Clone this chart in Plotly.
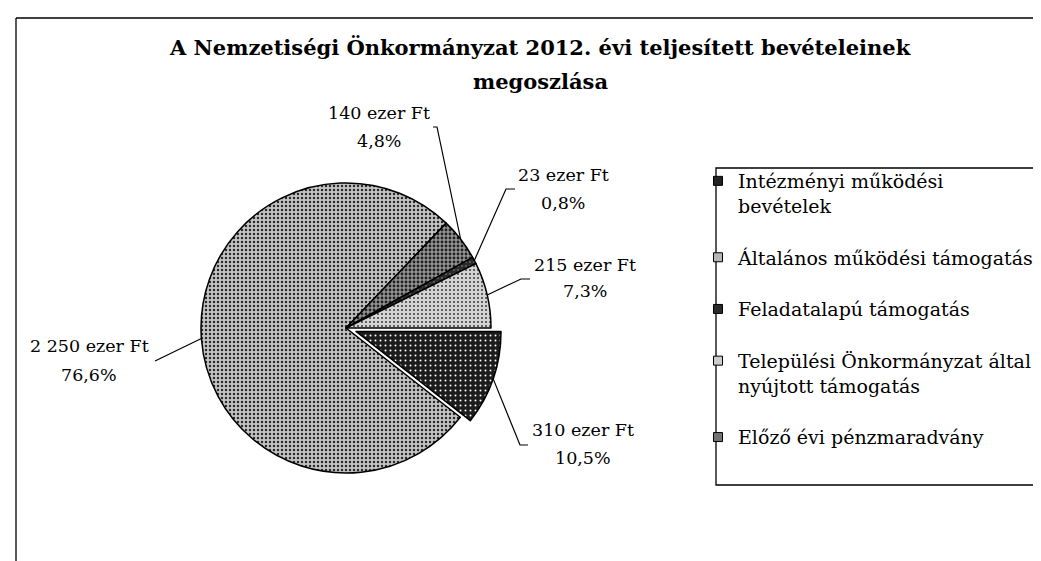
import math
import plotly.graph_objects as go

# ---------------- data ----------------
categories = [
    "Intézményi működési bevételek",
    "Általános működési támogatás",
    "Feladatalapú támogatás",
    "Települési Önkormányzat által nyújtott támogatás",
    "Előző évi pénzmaradvány",
]
legend_labels = [
    "Intézményi működési<br>bevételek",
    "Általános működési támogatás",
    "Feladatalapú támogatás",
    "Települési Önkormányzat által<br>nyújtott támogatás",
    "Előző évi pénzmaradvány",
]
values = [310, 2250, 23, 215, 140]          # ezer Ft
percent_labels = [10.5, 76.6, 0.8, 7.3, 4.8]  # % as printed on the chart
unit = "ezer Ft"
title_lines = ["A Nemzetiségi Önkormányzat 2012. évi teljesített bevételeinek", "megoszlása"]

# clockwise drawing order of the slices, starting at 3 o'clock
slice_order = [0, 1, 4, 2, 3]

# ---------------- styles ----------------
bg_cols = ["#1c1c1c", "#c4c4c4", "#2a2a2a", "#d4d4d4", "#949494"]
fg_cols = ["#ffffff", "#2a2a2a", "#666666", "#444444", "#202020"]
pat_sizes = [5, 4, 4, 4, 4]
pat_solid = [0.12, 0.3, 0.2, 0.22, 0.4]
legend_cols = ["#222222", "#b5b5b5", "#2a2a2a", "#cccccc", "#727272"]
pulls = [0.073, 0, 0, 0, 0]

W, H = 1041, 561
CX, CY, R = 338, 320, 145
FONT = "DejaVu Serif"


def xp(x):
    return x / W


def yp(y):
    return 1 - y / H


maxpull = max(pulls)
half = R * (1 + maxpull)

fig = go.Figure()

ordered = slice_order
fig.add_trace(go.Pie(
    labels=[categories[i] for i in ordered],
    values=[values[i] for i in ordered],
    pull=[pulls[i] for i in ordered],
    sort=False,
    direction="clockwise",
    rotation=90,
    textinfo="none",
    hoverinfo="label+value+percent",
    showlegend=False,
    domain=dict(x=[xp(CX - half), xp(CX + half)], y=[yp(CY + half), yp(CY - half)]),
    marker=dict(
        colors=[bg_cols[i] for i in ordered],
        line=dict(color="#000000", width=1.5),
        pattern=dict(
            shape=["."] * len(ordered),
            bgcolor=[bg_cols[i] for i in ordered],
            fgcolor=[fg_cols[i] for i in ordered],
            size=[pat_sizes[i] for i in ordered],
            solidity=[pat_solid[i] for i in ordered],
        ),
    ),
))

# legend entries (in the original legend order)
for i, lab in enumerate(legend_labels):
    fig.add_trace(go.Scatter(
        x=[None], y=[None], mode="markers", name=lab,
        legendgroup=f"g{i}",
        marker=dict(symbol="square", size=9, color=legend_cols[i],
                    line=dict(color="#000000", width=1)),
    ))

# ---------------- data labels with leader lines ----------------
label_pos = {
    0: dict(x=575, y1=422, y2=450, elbow=[(520, 437), (512, 437)]),
    1: dict(x=81, y1=338, y2=367, elbow=[(147, 353)]),
    2: dict(x=555, y1=167, y2=195, elbow=[(507, 181), (498, 181)]),
    3: dict(x=577, y1=257, y2=283, elbow=[(522, 271), (513, 271)]),
    4: dict(x=371, y1=105, y2=133, elbow=[(425, 119), (429, 119)]),
}

total = sum(values)
cum = 0.0
annotations = []
shapes = []
for i in ordered:
    a0 = -cum / total * 360.0
    a1 = -(cum + values[i]) / total * 360.0
    cum += values[i]
    mid = math.radians((a0 + a1) / 2)
    shift = pulls[i] * R
    ex = CX + (R + shift) * math.cos(mid)
    ey = CY - (R + shift) * math.sin(mid)
    lp = label_pos[i]
    pts = lp["elbow"] + [(ex, ey)]
    path = "M " + " L ".join(f"{xp(px):.5f},{yp(py):.5f}" for px, py in pts)
    shapes.append(dict(type="path", path=path, xref="paper", yref="paper",
                       line=dict(color="#000000", width=1.2)))
    vtxt = f"{values[i]:,}".replace(",", " ") + " " + unit
    ptxt = f"{percent_labels[i]:.1f}".replace(".", ",") + "%"
    for txt, yy in ((vtxt, lp["y1"]), (ptxt, lp["y2"])):
        annotations.append(dict(text=txt, x=xp(lp["x"]), y=yp(yy), xref="paper", yref="paper",
                                xanchor="center", yanchor="middle", showarrow=False,
                                font=dict(family=FONT, size=17.5, color="#000000")))

# title lines
for txt, yy in zip(title_lines, (40, 74)):
    annotations.append(dict(text=f"<b>{txt}</b>", x=xp(532), y=yp(yy), xref="paper", yref="paper",
                            xanchor="center", yanchor="middle", showarrow=False,
                            font=dict(family=FONT, size=21, color="#000000")))

# legend frame and chart frame
shapes.append(dict(type="rect", xref="paper", yref="paper", x0=xp(708), x1=xp(1037),
                   y0=yp(477), y1=yp(160), line=dict(color="#000000", width=1.3)))
shapes.append(dict(type="line", xref="paper", yref="paper", x0=xp(8), x1=1, y0=yp(10), y1=yp(10),
                   line=dict(color="#000000", width=1.3)))
shapes.append(dict(type="line", xref="paper", yref="paper", x0=xp(8), x1=xp(8), y0=0, y1=yp(10),
                   line=dict(color="#000000", width=1.3)))

fig.update_layout(
    width=W, height=H,
    margin=dict(l=0, r=0, t=0, b=0),
    paper_bgcolor="#ffffff", plot_bgcolor="#ffffff",
    xaxis=dict(visible=False), yaxis=dict(visible=False),
    showlegend=True,
    legend=dict(x=xp(690), y=yp(154), xanchor="left", yanchor="top",
                bgcolor="rgba(0,0,0,0)", borderwidth=0, valign="top",
                font=dict(family=FONT, size=19, color="#000000"),
                tracegroupgap=24, traceorder="grouped"),
    annotations=annotations,
    shapes=shapes,
)

fig.write_html("out.html")
